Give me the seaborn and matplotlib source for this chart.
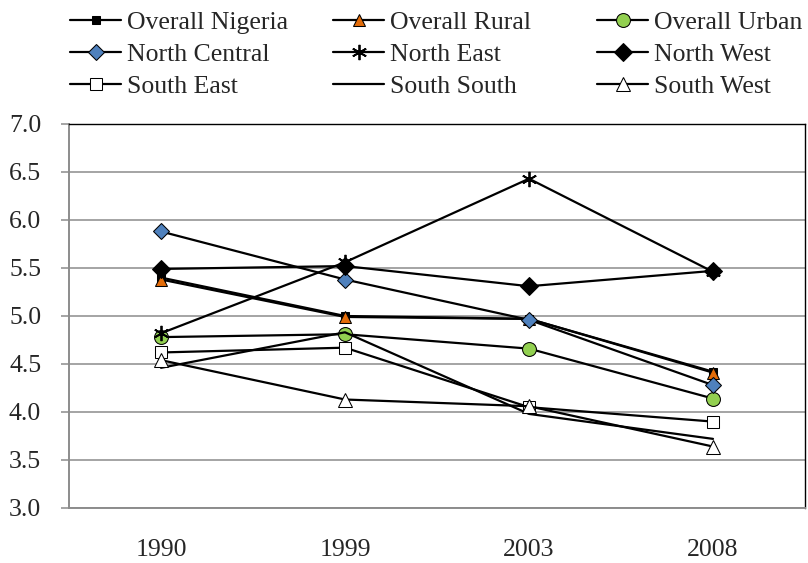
import matplotlib
matplotlib.use('Agg')
import matplotlib.pyplot as plt
import seaborn as sns
import pandas as pd

years = ['1990', '1999', '2003', '2008']

overall_nigeria = [5.40, 5.00, 4.97, 4.42]
overall_rural = [5.38, 4.99, 4.97, 4.41]
overall_urban = [4.78, 4.81, 4.66, 4.14]
north_central = [5.88, 5.38, 4.96, 4.28]
north_east = [4.82, 5.56, 6.43, 5.46]
north_west = [5.49, 5.52, 5.31, 5.47]
south_east = [4.62, 4.67, 4.05, 3.90]
south_south = [4.46, 4.83, 3.98, 3.72]
south_west = [4.54, 4.13, 4.06, 3.64]

series = [
    ('Overall Nigeria', overall_nigeria, dict(marker='s', markersize=6, markerfacecolor='black')),
    ('Overall Rural', overall_rural, dict(marker='^', markersize=9, markerfacecolor='#E36C09')),
    ('Overall Urban', overall_urban, dict(marker='o', markersize=10, markerfacecolor='#92D050')),
    ('North Central', north_central, dict(marker='D', markersize=8.5, markerfacecolor='#4F81BD')),
    ('North East', north_east, dict(marker=(6, 2, 0), markersize=11, markeredgewidth=1.3)),
    ('North West', north_west, dict(marker='D', markersize=9, markerfacecolor='black')),
    ('South East', south_east, dict(marker='s', markersize=9, markerfacecolor='white')),
    ('South South', south_south, dict(marker='None')),
    ('South West', south_west, dict(marker='^', markersize=10, markerfacecolor='white')),
]

sns.set_style('white')
plt.rcParams['font.family'] = ['Liberation Serif', 'DejaVu Serif']
plt.rcParams['font.size'] = 18.5

fig = plt.figure(figsize=(8.08, 5.63), dpi=100)
ax = fig.add_axes([0.0854, 0.0977, 0.9109, 0.6821])

handles = {}
for name, vals, style in series:
    df = pd.DataFrame({'year': years, 'value': vals})
    sns.lineplot(data=df, x='year', y='value', ax=ax, color='black', linewidth=1.6,
                 markeredgecolor='black', label=name, **style)
    handles[name] = ax.get_lines()[-1]
ax.get_legend().remove()

ax.set_xlim(-0.5, 3.5)
ax.set_ylim(3.0, 7.0)
ax.set_yticks([3.0, 3.5, 4.0, 4.5, 5.0, 5.5, 6.0, 6.5, 7.0])
ax.set_yticklabels(['3.0', '3.5', '4.0', '4.5', '5.0', '5.5', '6.0', '6.5', '7.0'])
ax.set_xticks(range(len(years)))
ax.set_xticklabels(years)
ax.set_xticks([-0.5, 0.5, 1.5, 2.5, 3.5], minor=True)
ax.set_xlabel('')
ax.set_ylabel('')
ax.grid(axis='y', color='#8C8C8C', linewidth=1.1)
ax.set_axisbelow(True)

ax.tick_params(axis='x', which='major', length=0, pad=22)
ax.tick_params(axis='x', which='minor', length=6, width=1.1, color='#8C8C8C', direction='out')
ax.tick_params(axis='y', length=6, width=1.1, color='#8C8C8C', direction='out', pad=14, left=True)
for side in ['left', 'bottom']:
    ax.spines[side].set_color('#8C8C8C')
    ax.spines[side].set_linewidth(1.4)
for side in ['top', 'right']:
    ax.spines[side].set_color('black')
    ax.spines[side].set_linewidth(1.0)

# three fixed-width legend columns, like the spreadsheet legend
columns = [
    (70, ['Overall Nigeria', 'North Central', 'South East']),
    (333, ['Overall Rural', 'North East', 'South South']),
    (597, ['Overall Urban', 'North West', 'South West']),
]
for x_px, names in columns:
    fig.legend([handles[n] for n in names], names, loc='upper left',
               bbox_to_anchor=(x_px / 808, 1 - 11 / 563), frameon=False,
               borderpad=0, borderaxespad=0, handlelength=2.0,
               handletextpad=0.2, labelspacing=0.35, fontsize=18.5)

fig.savefig('out.png', dpi=100)
